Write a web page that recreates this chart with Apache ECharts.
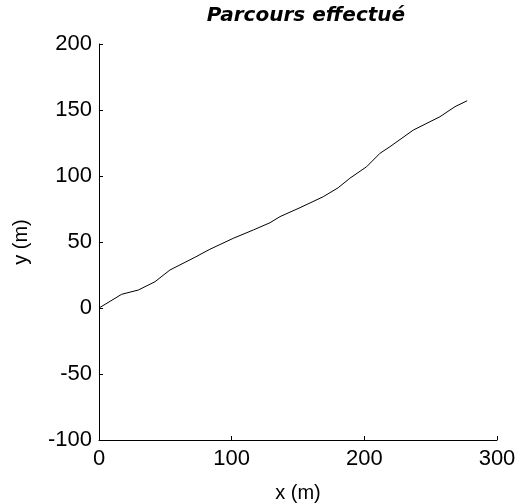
<!DOCTYPE html>
<html>
<head>
<meta charset="utf-8">
<script src="https://cdn.jsdelivr.net/npm/echarts@6/dist/echarts.min.js"></script>
<style>
  html, body { margin: 0; padding: 0; background: #fff; }
  #chart { width: 518px; height: 504px; }
</style>
</head>
<body>
<div id="chart"></div>
<script>
// trajectory
const xPos = [0, 17.1, 29.6, 42.2, 53.5, 72.3, 83.6, 101.2, 116.3, 128.9, 136.4, 151.5, 169, 180.3, 189.1, 201.7, 211.8, 219.3, 236.9, 257, 268.3, 277.5];
const yPos = [0, 10.4, 13.6, 19.9, 28.8, 38.4, 44.5, 52.8, 59.1, 64.6, 69.2, 76, 84.3, 91.1, 98.3, 107, 117.2, 122.2, 134.8, 144.9, 152.5, 157];
const xTicks = [0, 100, 200, 300];
const yTicks = [-100, -50, 0, 50, 100, 150, 200];

const font = 'Arial, "Liberation Sans", sans-serif';
const chart = echarts.init(document.getElementById('chart'));

const axisCommon = {
  type: 'value',
  nameLocation: 'middle',
  nameTextStyle: { fontFamily: font, fontSize: 20, color: '#000' },
  axisLine: { show: true, onZero: false, lineStyle: { color: '#000', width: 1 } },
  axisTick: { show: true, inside: true, length: 4, lineStyle: { color: '#000' } },
  axisLabel: { fontFamily: font, fontSize: 22, color: '#000' },
  splitLine: { show: false }
};

chart.setOption({
  animation: false,
  title: {
    text: 'Parcours effectué',
    left: 301,
    top: 1,
    textAlign: 'center',
    textStyle: { fontFamily: '"DejaVu Sans", sans-serif', fontSize: 20, fontWeight: 'bold', fontStyle: 'italic', color: '#000' }
  },
  grid: { left: 99, right: 21, top: 44, bottom: 64, outerBoundsMode: 'none', containLabel: false },
  xAxis: Object.assign({}, axisCommon, {
    name: 'x (m)',
    nameGap: 43,
    min: xTicks[0],
    max: xTicks[xTicks.length - 1],
    interval: 100,
    axisLabel: Object.assign({}, axisCommon.axisLabel, { margin: 8 })
  }),
  yAxis: Object.assign({}, axisCommon, {
    name: 'y (m)',
    nameGap: 68,
    min: yTicks[0],
    max: yTicks[yTicks.length - 1],
    interval: 50,
    axisLabel: Object.assign({}, axisCommon.axisLabel, { margin: 7 })
  }),
  series: [{
    type: 'line',
    data: xPos.map((x, i) => [x, yPos[i]]),
    showSymbol: false,
    lineStyle: { color: '#000', width: 1 }
  }]
});
</script>
</body>
</html>
